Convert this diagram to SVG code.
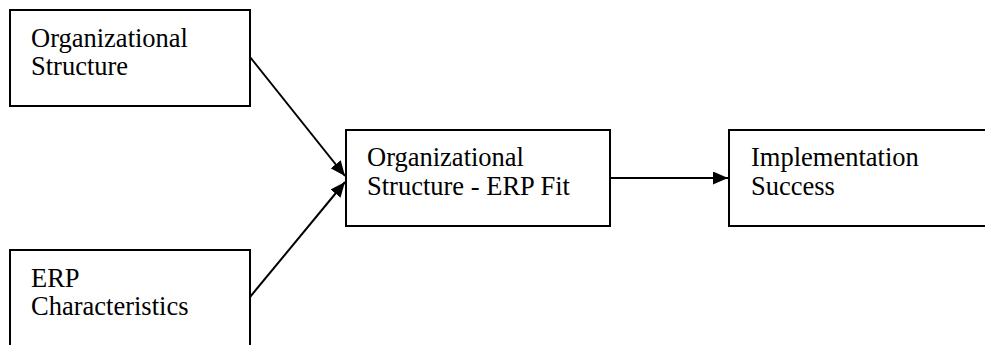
<svg xmlns="http://www.w3.org/2000/svg" width="985" height="345" viewBox="0 0 985 345">
<style>
.box{fill:#fff;stroke:#000;stroke-width:2}
.t{font-family:"Liberation Serif","Times New Roman",serif;font-size:26.5px;fill:#000}
.c{stroke:#000;stroke-width:2;fill:none}
</style>
<defs>
<marker id="ah" viewBox="0 0 15 13" refX="15" refY="6.5" markerWidth="15" markerHeight="13" markerUnits="userSpaceOnUse" orient="auto">
<path d="M0,0 L15,6.5 L0,13 Z" fill="#000"/>
</marker>
</defs>
<rect width="985" height="345" fill="#fff"/>
<g id="org">
<rect class="box" x="10" y="10" width="240" height="96"/>
<text class="t" x="31" y="47">Organizational</text>
<text class="t" x="31" y="75">Structure</text>
</g>
<g id="erp">
<rect class="box" x="10" y="250" width="240" height="100"/>
<text class="t" x="31" y="287">ERP</text>
<text class="t" x="31" y="315">Characteristics</text>
</g>
<g id="fit">
<rect class="box" x="346" y="130" width="264" height="96"/>
<text class="t" x="367" y="166">Organizational</text>
<text class="t" x="367" y="195">Structure - ERP Fit</text>
</g>
<g id="success">
<rect class="box" x="729" y="130" width="260" height="96"/>
<text class="t" x="751" y="166">Implementation</text>
<text class="t" x="751" y="195">Success</text>
</g>
<g id="connectors">
<line class="c" x1="250" y1="57" x2="345" y2="176" marker-end="url(#ah)"/>
<line class="c" x1="250" y1="297" x2="345" y2="182" marker-end="url(#ah)"/>
<line class="c" x1="610" y1="178" x2="728" y2="178" marker-end="url(#ah)"/>
</g>
</svg>
